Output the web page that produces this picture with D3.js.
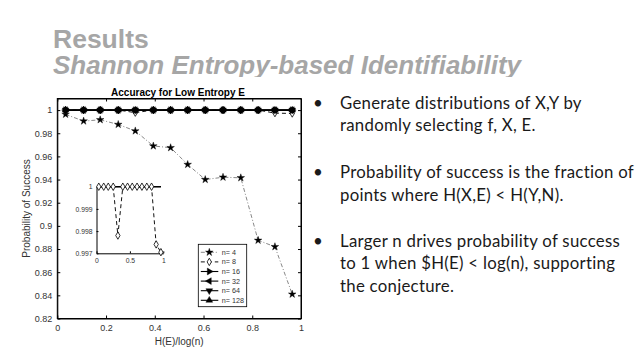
<!DOCTYPE html>
<html>
<head>
<meta charset="utf-8">
<script src="https://cdn.jsdelivr.net/npm/d3@7"></script>
<style>
  body { margin: 0; background: #fff; }
  svg { display: block; }
</style>
</head>
<body>
<svg id="slide"></svg>
<script>
// Values
const xVals = [0.034, 0.108, 0.176, 0.25, 0.32, 0.394, 0.465, 0.535, 0.607, 0.68, 0.753, 0.824, 0.893, 0.964];
const n4   = [0.9963, 0.9905, 0.9916, 0.9876, 0.982, 0.969, 0.9675, 0.953, 0.940, 0.942, 0.9415, 0.8875, 0.882, 0.841];
const n8   = [1, 1, 1, 1, 0.9978, 1, 1, 1, 1, 1, 1, 1, 0.9974, 0.99705];
const n16  = [1, 1, 1, 1, 1, 1, 1, 1, 1, 1, 1, 1, 1, 1];
const n32  = [1, 1, 1, 1, 1, 1, 1, 1, 1, 1, 1, 1, 1, 1];
const n64  = [1, 1, 1, 1, 1, 1, 1, 1, 1, 1, 1, 1, 1, 1];
const n128 = [1, 1, 1, 1, 1, 1, 1, 1, 1, 1, 1, 1, 1, 1];
const legendLabels = ['n= 4', 'n= 8', 'n= 16', 'n= 32', 'n= 64', 'n= 128'];

const xTicks = [0, 0.2, 0.4, 0.6, 0.8, 1];
const yTicks = [0.82, 0.84, 0.86, 0.88, 0.9, 0.92, 0.94, 0.96, 0.98, 1];
const insetXTicks = [0, 0.5, 1];
const insetYTicks = [0.997, 0.998, 0.999, 1];

const bullets = [
  ['Generate distributions of X,Y by', 'randomly selecting f, X, E.'],
  ['Probability of success is the fraction of', 'points where H(X,E) < H(Y,N).'],
  ['Larger n drives probability of success', 'to 1 when $H(E) < log(n), supporting', 'the conjecture.']
];

// Canvas
const svgWidth = 638;
const svgHeight = 359;
const plotFont = '"Liberation Sans", Arial, Helvetica, sans-serif';

const svg = d3.select('#slide')
  .attr('width', svgWidth)
  .attr('height', svgHeight)
  .style('background-color', 'white');

// Heading
svg.append('text')
  .attr('x', 53).attr('y', 48)
  .attr('font-family', plotFont)
  .attr('font-weight', 'bold')
  .attr('font-size', 26.5)
  .attr('fill', '#a6a6a6')
  .text('Results');

svg.append('text')
  .attr('x', 53).attr('y', 73.5)
  .attr('font-family', plotFont)
  .attr('font-weight', 'bold')
  .attr('font-style', 'italic')
  .attr('font-size', 26)
  .attr('fill', '#a6a6a6')
  .text('Shannon Entropy-based Identifiability');

// figure + text boxes sit on top of the heading and cut its descenders
svg.append('rect')
  .attr('x', 0).attr('y', 77)
  .attr('width', svgWidth).attr('height', svgHeight - 77)
  .attr('fill', 'white');

// Main plot scales
const xScale = d3.scaleLinear().domain([0, 1]).range([57.3, 301]);
const yScale = d3.scaleLinear().domain([0.82, 1.01]).range([318.5, 98.5]);
const fmt = d3.format('~g');

const plot = svg.append('g').attr('font-family', plotFont);

// series styling
const series = [
  {label: legendLabels[0], vals: n4,   sym: 'star',    dash: '4,2,1,2', stroke: '#555', sw: 0.7},
  {label: legendLabels[1], vals: n8,   sym: 'diamond', dash: '4,3',     stroke: '#111', sw: 1},
  {label: legendLabels[2], vals: n16,  sym: 'right',   dash: null,      stroke: '#000', sw: 1.1},
  {label: legendLabels[3], vals: n32,  sym: 'left',    dash: null,      stroke: '#000', sw: 1.1},
  {label: legendLabels[4], vals: n64,  sym: 'down',    dash: null,      stroke: '#000', sw: 1.1},
  {label: legendLabels[5], vals: n128, sym: 'up',      dash: null,      stroke: '#000', sw: 1.1}
];

// Method: drawMarker()
function drawMarker(g, sym, cx, cy) {
  let gen, rot = 0, fill = '#000';
  if (sym === 'star') gen = d3.symbol(d3.symbolStar, 18);
  else if (sym === 'diamond') { gen = d3.symbol(d3.symbolDiamond, 16); fill = 'white'; }
  else {
    gen = d3.symbol(d3.symbolTriangle, 20);
    rot = {right: 90, left: -90, down: 180, up: 0}[sym];
  }
  g.append('path')
    .attr('d', gen())
    .attr('transform', 'translate(' + cx + ',' + cy + ') rotate(' + rot + ')')
    .attr('fill', fill)
    .attr('stroke', '#000')
    .attr('stroke-width', sym === 'diamond' ? 0.8 : 0.4);
}

// Axes: inward ticks, MATLAB box
const tickColor = '#333';
plot.append('g')
  .attr('transform', 'translate(0,318.5)')
  .call(d3.axisBottom(xScale).tickValues(xTicks).tickFormat(fmt).tickSizeInner(-3).tickSizeOuter(0).tickPadding(6))
  .call(g => g.selectAll('text').attr('font-size', 9).attr('fill', tickColor).attr('font-family', plotFont));

plot.append('g')
  .attr('transform', 'translate(57.3,0)')
  .call(d3.axisLeft(yScale).tickValues(yTicks).tickFormat(fmt).tickSizeInner(-3).tickSizeOuter(0).tickPadding(5))
  .call(g => g.selectAll('text').attr('font-size', 9).attr('fill', tickColor).attr('font-family', plotFont));

plot.append('g')
  .attr('transform', 'translate(0,98.5)')
  .call(d3.axisTop(xScale).tickValues(xTicks).tickFormat('').tickSizeInner(-3).tickSizeOuter(0));

plot.append('g')
  .attr('transform', 'translate(301,0)')
  .call(d3.axisRight(yScale).tickValues(yTicks).tickFormat('').tickSizeInner(-3).tickSizeOuter(0));

plot.selectAll('.domain').attr('stroke', '#000');

plot.append('rect')
  .attr('x', xScale(0)).attr('y', yScale(1.01))
  .attr('width', xScale(1) - xScale(0))
  .attr('height', yScale(0.82) - yScale(1.01))
  .attr('fill', 'none').attr('stroke', '#000').attr('stroke-width', 1);

// Title and axis labels
plot.append('text')
  .attr('x', 178).attr('y', 95.5)
  .attr('text-anchor', 'middle')
  .attr('font-size', 10).attr('font-weight', 'bold')
  .text('Accuracy for Low Entropy E');

plot.append('text')
  .attr('transform', 'translate(30,208.5) rotate(-90)')
  .attr('text-anchor', 'middle')
  .attr('font-size', 10).attr('fill', tickColor)
  .text('Probability of Success');

plot.append('text')
  .attr('x', xScale(0.5)).attr('y', 345)
  .attr('text-anchor', 'middle')
  .attr('font-size', 10).attr('fill', tickColor)
  .text('H(E)/log(n)');

// Lines and markers in plotting order: later n are drawn on top
const lineGen = d3.line().x((d, i) => xScale(xVals[i])).y(d => yScale(d));
series.forEach(s => {
  plot.append('path')
    .datum(s.vals)
    .attr('d', lineGen)
    .attr('fill', 'none')
    .attr('stroke', s.stroke)
    .attr('stroke-width', s.sw)
    .attr('stroke-dasharray', s.dash);
});
series.forEach(s => {
  const mg = plot.append('g');
  s.vals.forEach((v, i) => drawMarker(mg, s.sym, xScale(xVals[i]), yScale(v)));
});

// Inset zoom near 1
const xInset = d3.scaleLinear().domain([0, 1]).range([96.5, 163.3]);
const yInset = d3.scaleLinear().domain([0.997, 1]).range([253.3, 186.7]);
const inset = plot.append('g');

inset.append('g')
  .attr('transform', 'translate(0,253.3)')
  .call(d3.axisBottom(xInset).tickValues(insetXTicks).tickFormat(fmt).tickSizeInner(-2).tickSizeOuter(0).tickPadding(5))
  .call(g => g.selectAll('text').attr('font-size', 6.8).attr('fill', tickColor).attr('font-family', plotFont));
inset.append('g')
  .attr('transform', 'translate(96.5,0)')
  .call(d3.axisLeft(yInset).tickValues(insetYTicks).tickFormat(fmt).tickSizeInner(-2).tickSizeOuter(0).tickPadding(4))
  .call(g => g.selectAll('text').attr('font-size', 6.8).attr('fill', tickColor).attr('font-family', plotFont));
inset.selectAll('.domain').attr('stroke', '#000');

const lineInset = d3.line().x((d, i) => xInset(xVals[i])).y(d => yInset(d));
[n16, n32, n64, n128].forEach(vals => {
  inset.append('path').datum(vals).attr('d', lineInset)
    .attr('fill', 'none').attr('stroke', '#000').attr('stroke-width', 1);
});
inset.append('path').datum(n8).attr('d', lineInset)
  .attr('fill', 'none').attr('stroke', '#111').attr('stroke-width', 1).attr('stroke-dasharray', '4,3');
n8.forEach((v, i) => drawMarker(inset, 'diamond', xInset(xVals[i]), yInset(v)));

// Legend
const legend = plot.append('g').attr('transform', 'translate(198.3,244.3)');
legend.append('rect')
  .attr('width', 48.4).attr('height', 62.4)
  .attr('fill', 'white').attr('stroke', '#000').attr('stroke-width', 0.8);
series.forEach((s, i) => {
  const ry = 8 + i * 9.6;
  legend.append('line')
    .attr('x1', 2.5).attr('x2', 20).attr('y1', ry).attr('y2', ry)
    .attr('stroke', s.stroke).attr('stroke-width', s.sw)
    .attr('stroke-dasharray', s.dash);
  drawMarker(legend, s.sym, 11, ry);
  legend.append('text')
    .attr('x', 23.5).attr('y', ry + 2.6)
    .attr('font-size', 7.2).attr('fill', tickColor)
    .text(s.label);
});

// Bullet text on the right
const bulletFont = 'Lato, "Open Sans", sans-serif';
const bulletTop = [108.5, 178.3, 246.7];
const bg = svg.append('g').attr('font-family', bulletFont).attr('fill', '#1a1a1a');
bullets.forEach((lines, b) => {
  bg.append('text')
    .attr('x', 313).attr('y', bulletTop[b])
    .attr('font-size', 17)
    .text('\u2022');
  lines.forEach((t, j) => {
    bg.append('text')
      .attr('x', 340).attr('y', bulletTop[b] + j * 22.4)
      .attr('font-size', 16.8)
      .attr('letter-spacing', 0.27)
      .text(t);
  });
});
</script>
</body>
</html>
